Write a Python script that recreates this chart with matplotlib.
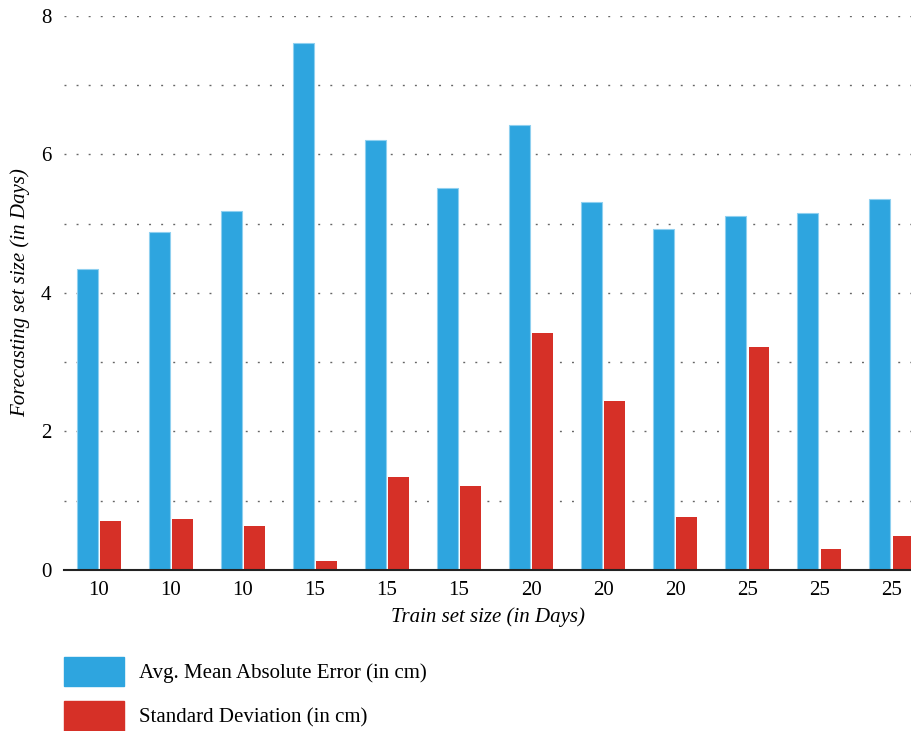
import matplotlib as mpl
import matplotlib.patches as mpatches
import matplotlib.pyplot as plt
import numpy as np

# valori
train_sizes = ["10", "10", "10", "15", "15", "15", "20", "20", "20", "25", "25", "25"]
mae = [4.34, 4.88, 5.18, 7.61, 6.21, 5.51, 6.42, 5.31, 4.92, 5.11, 5.15, 5.35]
std = [0.71, 0.74, 0.635, 0.13, 1.34, 1.21, 3.42, 2.44, 0.765, 3.22, 0.30, 0.49]

BLUE = "#2EA5DF"
RED = "#D63027"

mpl.rcParams.update({
    "font.family": "serif",
    "font.serif": ["Liberation Serif", "DejaVu Serif"],
    "font.size": 15,
})

fig = plt.figure(figsize=(9.12, 7.31), dpi=100)
ax = fig.add_axes([0.0702, 0.2203, 0.9298, 0.7582])

x = np.arange(len(train_sizes))
w = 0.287
ax.bar(x - 0.163, mae, width=w, color=BLUE, edgecolor="#8FD0F0",
       linewidth=0.8, zorder=3)
ax.bar(x + 0.163, std, width=w, color=RED, linewidth=0, zorder=3)

ax.set_xlim(-0.486, 11.29)
ax.set_ylim(0, 8)
ax.set_yticks([0, 2, 4, 6, 8])
ax.set_xticks(x)
ax.set_xticklabels(train_sizes)
ax.tick_params(axis="both", which="both", length=0, labelsize=15)
ax.tick_params(axis="y", pad=9)
ax.tick_params(axis="x", pad=8)

# griglia a puntini
for yv in range(1, 9):
    ax.axhline(yv, color="#666666", linewidth=1.0,
               linestyle=(0, (1.4, 7.3)), zorder=1)

for s in ["top", "right", "left"]:
    ax.spines[s].set_visible(False)
ax.spines["bottom"].set_color("#222222")
ax.spines["bottom"].set_linewidth(1.5)
ax.spines["bottom"].set_zorder(4)

ax.set_xlabel("Train set size (in Days)", fontstyle="italic", fontsize=15,
              labelpad=5)
ax.set_ylabel("Forecasting set size (in Days)", fontstyle="italic",
              fontsize=15, labelpad=8)

handles = [mpatches.Patch(color=BLUE), mpatches.Patch(color=RED)]
labels = ["Avg. Mean Absolute Error (in cm)", "Standard Deviation (in cm)"]
fig.legend(handles, labels, loc="upper left",
           bbox_to_anchor=(0.0702, 1 - 657 / 731), frameon=False,
           handlelength=2.9, handleheight=1.8, handletextpad=0.72,
           labelspacing=0.7, borderaxespad=0, borderpad=0,
           bbox_transform=fig.transFigure, fontsize=15)

fig.savefig("out.png", dpi=100)
